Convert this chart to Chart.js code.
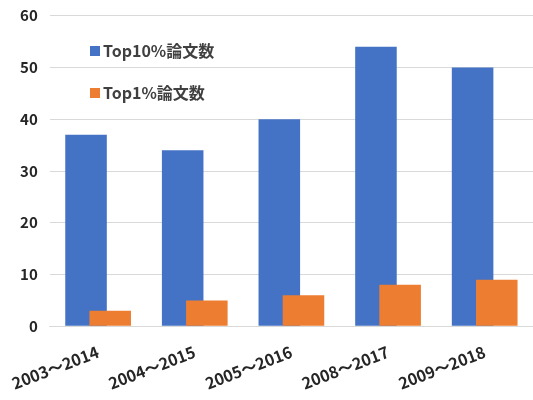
<!DOCTYPE html>
<html lang="ja">

<head>
    <meta charset="utf-8">
    <style>
        body { margin: 0; background: #fff; }
        #wrap { width: 533px; height: 400px; }
    </style>
</head>

<body>
    <div id="wrap">
        <canvas id="papersChart"></canvas>
    </div>
    <script src="https://cdn.jsdelivr.net/npm/chart.js"></script>
    <script>
        const periods = ['2003～2014', '2004～2015', '2005～2016', '2008～2017', '2009～2018'];
        const top10 = [37, 34, 40, 54, 50];
        const top1 = [3, 5, 6, 8, 9];
        const seriesNames = ['Top10%論文数', 'Top1%論文数'];

        const fontFamily = '"Noto Sans CJK JP", "Noto Sans", sans-serif';

        // legend drawn inside the plot, stacked vertically like the original
        const insideLegend = {
            id: 'insideLegend',
            afterDraw(chart) {
                const ctx = chart.ctx;
                ctx.save();
                ctx.font = 'bold 16px ' + fontFamily;
                ctx.textBaseline = 'middle';
                chart.data.datasets.forEach((ds, i) => {
                    const y = 51 + i * 42;
                    ctx.fillStyle = ds.backgroundColor;
                    ctx.fillRect(90, y - 5, 10, 10);
                    ctx.fillStyle = '#404040';
                    ctx.fillText(ds.label, 103, y);
                });
                ctx.restore();
            }
        };

        // draw series in index order so the orange bars sit over the blue ones
        const forwardOrder = {
            id: 'forwardOrder',
            beforeDatasetsDraw(chart) {
                for (let i = 0; i < chart.data.datasets.length; i++) {
                    chart.getDatasetMeta(i).controller.draw();
                }
                return false;
            }
        };

        new Chart(document.getElementById('papersChart'), {
            type: 'bar',
            data: {
                labels: periods,
                datasets: [{
                    label: seriesNames[0],
                    data: top10,
                    backgroundColor: '#4472C4'
                }, {
                    label: seriesNames[1],
                    data: top1,
                    backgroundColor: '#ED7D31'
                }]
            },
            options: {
                responsive: true,
                maintainAspectRatio: false,
                animation: false,
                categoryPercentage: 0.5,
                barPercentage: 1.72,
                layout: { padding: { top: 0, right: 0, left: 5, bottom: -1 } },
                plugins: {
                    legend: { display: false },
                    tooltip: { enabled: false }
                },
                scales: {
                    x: {
                        grid: { display: false },
                        border: { color: '#d9d9d9' },
                        ticks: {
                            minRotation: 21,
                            maxRotation: 21,
                            padding: 8,
                            color: '#262626',
                            font: { family: fontFamily, size: 16, weight: 'bold' }
                        }
                    },
                    y: {
                        min: 0,
                        max: 60,
                        ticks: {
                            stepSize: 10,
                            padding: 12,
                            color: '#262626',
                            font: { family: fontFamily, size: 15, weight: 'bold', lineHeight: 0.5 }
                        },
                        grid: { color: '#d9d9d9', drawTicks: false },
                        border: { display: false }
                    }
                }
            },
            plugins: [insideLegend, forwardOrder]
        });
    </script>
</body>

</html>
